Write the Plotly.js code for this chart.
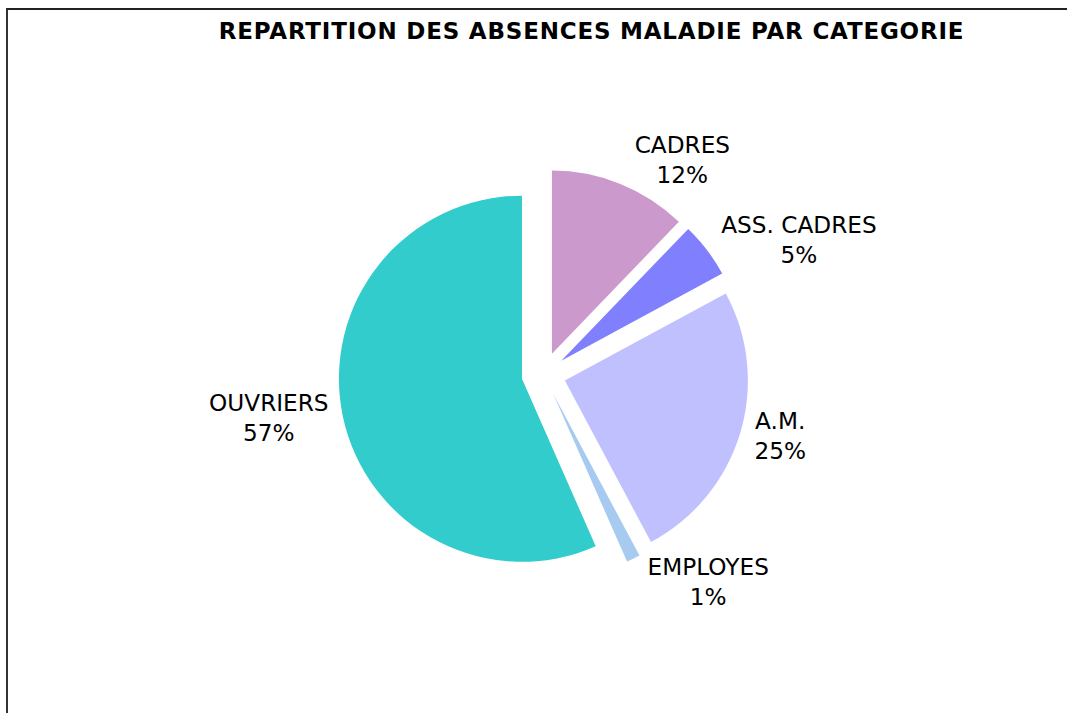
<!DOCTYPE html>
<html>
<head>
<meta charset="utf-8">
<script src="https://cdn.plot.ly/plotly-3.0.1.min.js"></script>
<style>
  html, body { margin: 0; padding: 0; background: #fff; }
  #wrap { position: relative; width: 1067px; height: 713px; overflow: hidden; }
  #frame { position: absolute; left: 6px; top: 8px; width: 1200px; height: 800px;
           border-top: 2px solid #222; border-left: 2px solid #333; pointer-events: none; z-index: 5; }
  #chart { position: absolute; left: 0; top: 0; width: 1067px; height: 713px; }
  #chart .gtitle { letter-spacing: 0.8px; }
</style>
</head>
<body>
<div id="wrap">
  <div id="chart"></div>
  <div id="frame"></div>
</div>
<script>
const categories = ["CADRES", "ASS. CADRES", "A.M.", "EMPLOYES", "OUVRIERS"];
const shares = [12.2, 4.9, 25.1, 1.2, 56.6];
const colors = ["#CC99CC", "#8080FF", "#C0C0FF", "#A6CAF0", "#33CCCC"];
const pulls = [0.121, 0.121, 0.121, 0.121, 0.121];

const trace = {
  type: "pie",
  labels: categories,
  values: shares,
  sort: false,
  direction: "clockwise",
  rotation: 0,
  pull: pulls,
  marker: { colors: colors, line: { width: 0 } },
  textposition: "outside",
  texttemplate: "%{label}<br>%{percent:.0%}",
  hoverinfo: "label+percent",
  outsidetextfont: { family: "DejaVu Sans, Verdana, sans-serif", size: 23.2, color: "#000" },
  domain: { x: [0.3172, 0.7018], y: [0.1874, 0.7630] },
  showlegend: false
};

const layout = {
  width: 1067, height: 713,
  margin: { l: 0, r: 0, t: 0, b: 0 },
  paper_bgcolor: "#fff",
  showlegend: false,
  title: {
    text: "<b>REPARTITION DES ABSENCES MALADIE PAR CATEGORIE</b>",
    font: { family: "DejaVu Sans, Verdana, sans-serif", size: 23, color: "#000" },
    xref: "container", yref: "container",
    x: 0.5544, xanchor: "center",
    y: 1 - 31 / 713, yanchor: "middle"
  }
};

Plotly.newPlot("chart", [trace], layout, { staticPlot: true, displayModeBar: false });
</script>
</body>
</html>
